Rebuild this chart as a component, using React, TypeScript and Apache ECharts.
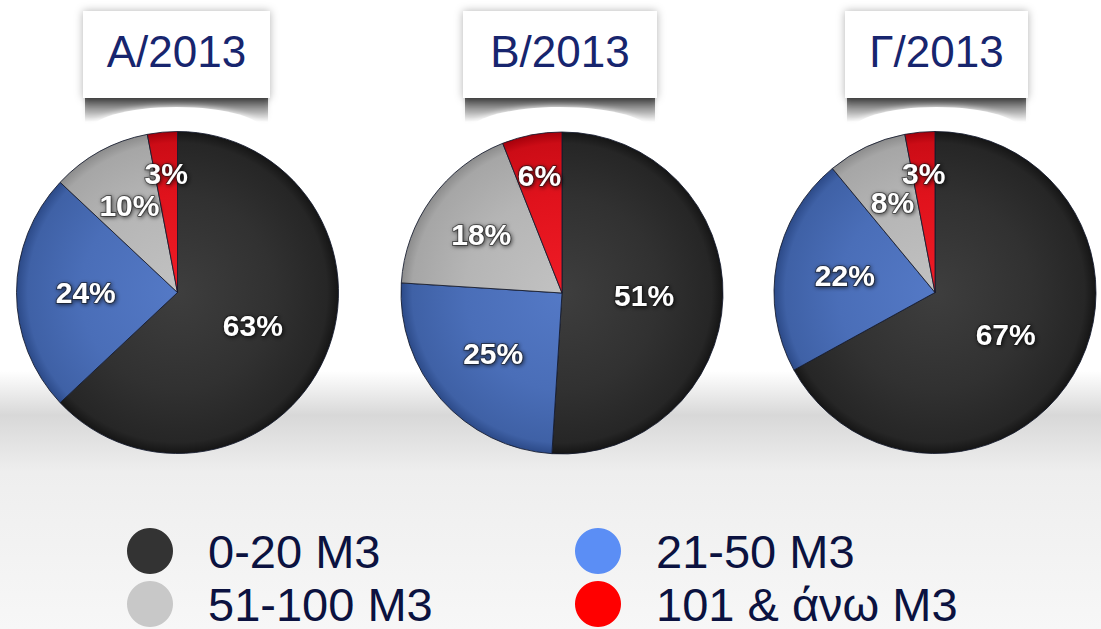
import React, { useEffect, useRef } from 'react';
import * as echarts from 'echarts';

// ---- data ----
const categories = ['0-20 M3', '21-50 M3', '51-100 M3', '101 & άνω M3'];
const periods = ['Α/2013', 'Β/2013', 'Γ/2013'];
const valuesA = [63, 24, 10, 3];
const valuesB = [51, 25, 18, 6];
const valuesC = [67, 22, 8, 3];
const periodValues = [valuesA, valuesB, valuesC];

// ---- styling ----
const sliceStops = [
  ['#3e3e3e', '#313131', '#262626', '#151515'],
  ['#5479c6', '#4a6eb8', '#3f61a6', '#2c4a88'],
  ['#c2c2c2', '#b5b5b5', '#a6a6a6', '#8c8c8c'],
  ['#f01c26', '#e0121c', '#cc0c16', '#a5000b'],
];
const legendColors = ['#333333', '#5b8ef5', '#c8c8c8', '#ff0000'];
const centers = [
  [177.5, 292.5],
  [562, 293],
  [935, 292.5],
];
const R = 161;
const boxes = [
  [83, 11, 187, 87],
  [463, 11, 194, 87],
  [845, 11, 183, 87],
];

function radial(cx: number, cy: number, stops: string[]) {
  return {
    type: 'radial',
    x: cx,
    y: cy,
    r: R,
    global: true,
    colorStops: [
      { offset: 0, color: stops[0] },
      { offset: 0.6, color: stops[1] },
      { offset: 0.93, color: stops[2] },
      { offset: 1, color: stops[3] },
    ],
  };
}

export default function App() {
  const ref = useRef<HTMLDivElement>(null);
  useEffect(() => {
    if (!ref.current) return;
    const chart = echarts.init(ref.current, undefined, { renderer: 'svg' });

    const series = periodValues.map((vals, i) => {
      const [cx, cy] = centers[i];
      const sum = vals.reduce((a, b) => a + b, 0);
      return {
        type: 'pie',
        name: periods[i],
        center: [cx, cy],
        radius: [0, R],
        startAngle: 90,
        clockwise: true,
        avoidLabelOverlap: false,
        emphasis: { disabled: true },
        itemStyle: { borderColor: 'rgba(20,26,45,0.85)', borderWidth: 1 },
        label: {
          show: true,
          position: 'inside',
          formatter: '{c}%',
          color: '#ffffff',
          fontFamily: 'Liberation Sans, Arial, sans-serif',
          fontWeight: 'bold',
          fontSize: 30,
          textBorderColor: 'rgba(25,25,25,0.55)',
          textBorderWidth: 2,
          textShadowColor: 'rgba(0,0,0,0.7)',
          textShadowBlur: 4,
          textShadowOffsetX: 1,
          textShadowOffsetY: 1,
        },
        labelLine: { show: false },
        labelLayout: (p: any) => {
          const r = p.labelRect;
          const lx = r.x + r.width / 2;
          const ly = r.y + r.height / 2;
          const vx = lx - cx;
          const vy = ly - cy;
          const d = Math.hypot(vx, vy) || 1;
          const pct = (vals[p.dataIndex] / sum) * 100;
          const f = pct >= 40 ? 0.51 : pct >= 20 ? 0.57 : pct >= 7 ? 0.62 : 0.745;
          const t = f * R;
          return { dx: (vx / d) * (t - d), dy: (vy / d) * (t - d) };
        },
        data: vals.map((v, k) => ({
          name: categories[k],
          value: v,
          itemStyle: { color: radial(cx, cy, sliceStops[k]) },
        })),
      };
    });

    const graphics: any[] = [];
    boxes.forEach(([bx, by, bw, bh]) => {
      graphics.push({
        type: 'rect',
        z: 0,
        shape: { x: bx + 2, y: by + bh - 4, width: bw - 4, height: 28 },
        style: {
          fill: {
            type: 'linear',
            x: 0,
            y: 0,
            x2: 0,
            y2: 1,
            colorStops: [
              { offset: 0, color: 'rgba(0,0,0,0.75)' },
              { offset: 0.5, color: 'rgba(0,0,0,0.35)' },
              { offset: 1, color: 'rgba(0,0,0,0)' },
            ],
          },
          shadowBlur: 5,
          shadowColor: 'rgba(0,0,0,0.3)',
        },
      });
      graphics.push({
        type: 'ellipse',
        z: 0,
        shape: { cx: bx + bw / 2, cy: by + bh + 34, rx: bw / 2 - 6, ry: 25 },
        style: { fill: '#ffffff', shadowBlur: 6, shadowColor: 'rgba(255,255,255,1)' },
      });
      graphics.push({
        type: 'rect',
        z: 1,
        shape: { x: bx, y: by, width: bw, height: bh },
        style: {
          fill: '#ffffff',
          shadowBlur: 8,
          shadowColor: 'rgba(0,0,0,0.3)',
        },
      });
    });

    chart.setOption({
      animation: false,
      backgroundColor: {
        type: 'linear',
        x: 0,
        y: 0,
        x2: 0,
        y2: 1,
        colorStops: [
          { offset: 0, color: '#ffffff' },
          { offset: 0.59, color: '#ffffff' },
          { offset: 0.66, color: '#d8d8d8' },
          { offset: 0.75, color: '#eeeeee' },
          { offset: 1, color: '#f7f7f7' },
        ],
      },
      title: periods.map((p, i) => ({
        text: p,
        left: boxes[i][0] + boxes[i][2] / 2,
        top: 51,
        textAlign: 'center',
        textVerticalAlign: 'middle',
        padding: 0,
        z: 5,
        textStyle: {
          color: '#17256e',
          fontFamily: 'Liberation Sans, Arial, sans-serif',
          fontWeight: 'normal',
          fontSize: 44,
        },
      })),
      legend: {
        left: 127,
        top: 527,
        width: 920,
        padding: 0,
        orient: 'horizontal',
        itemWidth: 46,
        itemHeight: 46,
        itemGap: 5,
        icon: 'circle',
        selectedMode: false,
        itemStyle: { borderWidth: 0 },
        textStyle: {
          color: '#0b1240',
          fontFamily: 'Liberation Sans, Arial, sans-serif',
          fontSize: 47,
          lineHeight: 48,
          width: 362,
          padding: [0, 0, 0, 30],
        },
        data: categories.map((c, k) => ({
          name: c,
          itemStyle: { color: legendColors[k], borderWidth: 0 },
        })),
      },
      graphic: graphics,
      series,
    });
    return () => chart.dispose();
  }, []);
  return (
    <div
      ref={ref}
      style={{ position: 'fixed', left: 0, top: 0, width: 1101, height: 629 }}
    />
  );
}
